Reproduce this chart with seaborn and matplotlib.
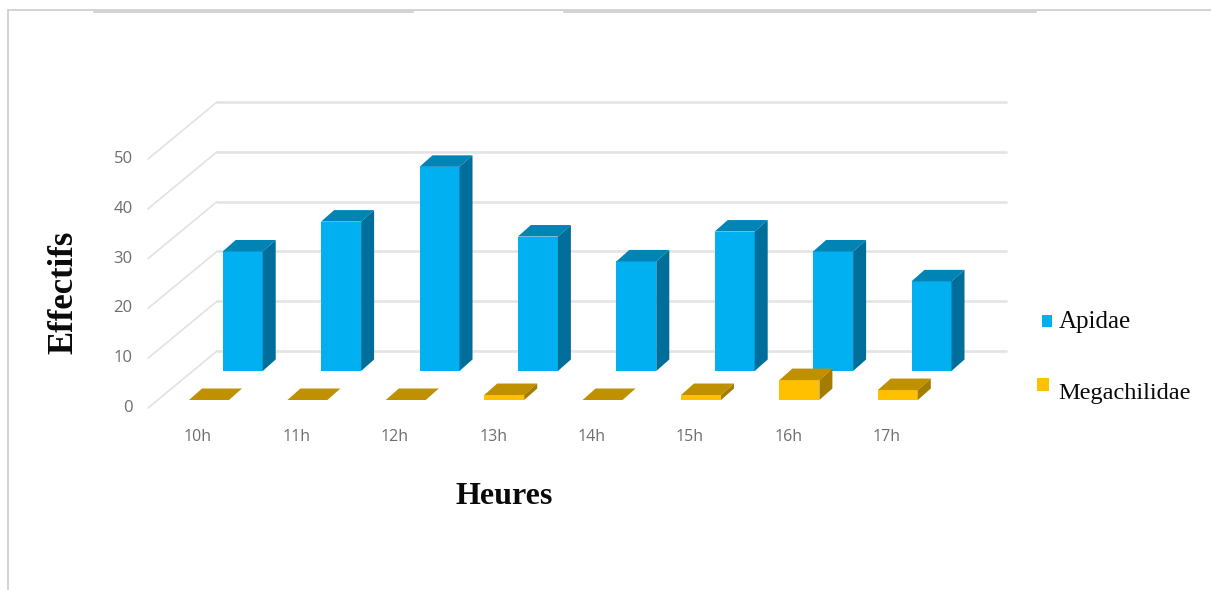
import matplotlib
matplotlib.use("Agg")
import matplotlib.pyplot as plt
from matplotlib.patches import Rectangle
from matplotlib.lines import Line2D
from matplotlib.transforms import ScaledTranslation
import seaborn as sns

hours = ["10h", "11h", "12h", "13h", "14h", "15h", "16h", "17h"]
apidae = [24, 30, 41, 27, 22, 28, 24, 18]
megachilidae = [0, 0, 0, 1, 0, 1, 4, 2]
value_ticks = [0, 10, 20, 30, 40, 50]

W, H = 1211, 590
STEP = 98.4          # pixels per hour category
UNIT = 4.98          # pixels per count
BAR_WIDTH = 40 / STEP
DEPTH_X, DEPTH_Y = 13 / STEP, 11.5 / UNIT

sns.set_theme(style="white", rc={"axes.facecolor": "none", "figure.facecolor": "white"})
fig = plt.figure(figsize=(W / 100, H / 100), dpi=100)


def pixel_axes(left, right, top, bottom, zorder):
    """Axes placed by pixel edges, measured from the top-left of the figure."""
    ax = fig.add_axes([left / W, 1 - bottom / H, (right - left) / W, (bottom - top) / H])
    ax.set_zorder(zorder)
    ax.patch.set_visible(False)
    return ax


def shade_bars(ax, values, top_color, side_color):
    """Add the top and right faces that give each bar its depth."""
    half = BAR_WIDTH / 2
    for i, v in enumerate(values):
        ax.fill([i - half, i + half, i + half + DEPTH_X, i - half + DEPTH_X],
                [v, v, v + DEPTH_Y, v + DEPTH_Y],
                color=top_color, lw=0, clip_on=False)
        if v > 0:
            ax.fill([i + half, i + half + DEPTH_X, i + half + DEPTH_X, i + half],
                    [0, DEPTH_Y, v + DEPTH_Y, v],
                    color=side_color, lw=0, clip_on=False)


def series_axes(center, base, values, color, top_color, side_color, zorder):
    """One row of bars; the row's depth comes from where its axes sit."""
    left = center - 0.6 * STEP
    ax = pixel_axes(left, left + 8.2 * STEP, base - 60 * UNIT, base, zorder)
    sns.barplot(x=hours, y=values, color=color, saturation=1, width=BAR_WIDTH,
                linewidth=0, ax=ax)
    ax.set_xlim(-0.6, 7.6)
    ax.set_ylim(0, 60)
    shade_bars(ax, values, top_color, side_color)
    ax.axis("off")
    return ax


# Back wall, floor edge and the receding gridlines
WALL_LEFT, WALL_RIGHT, WALL_BASE = 148, 1006, 408
RECEDE_X = 69 / STEP
RECEDE_Y = 57 / UNIT
wall = pixel_axes(WALL_LEFT, WALL_RIGHT, WALL_BASE - 62 * UNIT, WALL_BASE, 1)
x_first = -(198 - WALL_LEFT) / STEP
x_last = x_first + (WALL_RIGHT - WALL_LEFT) / STEP
wall.set_xlim(x_first, x_last)
wall.set_ylim(0, 62)
for v in value_ticks:
    wall.plot([x_first + RECEDE_X, x_last], [v + RECEDE_Y, v + RECEDE_Y],
              color="#e4e4e4", lw=1.9, clip_on=False)
    wall.plot([x_first, x_first + RECEDE_X], [v, v + RECEDE_Y],
              color="#e2e2e2", lw=1.2, clip_on=False)
wall.set_xticks(range(len(hours)), hours)
wall.set_yticks(value_ticks, [str(v) for v in value_ticks])
wall.tick_params(axis="both", length=0, labelcolor="#6e6e6e", labelsize=11.5,
                 labelfontfamily="Open Sans")
wall.tick_params(axis="x", pad=15)
wall.tick_params(axis="y", pad=11, labelsize=12)
nudge_up = ScaledTranslation(0, 2 / 100, fig.dpi_scale_trans)
for label in wall.get_yticklabels():
    label.set_transform(label.get_transform() + nudge_up)
sns.despine(ax=wall, left=True, bottom=True)
wall.set_xlabel("Heures", family="Liberation Serif", weight="bold", size=23, color="#0a0a0a")
wall.xaxis.set_label_coords(504 / W, 1 - 497 / H, transform=fig.transFigure)
wall.xaxis.label.set_va("center")
wall.set_ylabel("Effectifs", family="Liberation Serif", weight="bold", size=25, color="#0a0a0a")
wall.yaxis.set_label_coords(64 / W, 1 - 292 / H, transform=fig.transFigure)
wall.yaxis.label.set_va("center")

series_axes(242.7, 371, apidae, "#00B0F0", "#0084B5", "#006E9B", 2)
series_axes(209, 400, megachilidae, "#FFC000", "#BF9000", "#A37C00", 3)

# Legend entries
for (x0, y0, x1, y1), color, name, tx, ty, size in [
    ((1042, 315, 1052, 327), "#00B0F0", "Apidae", 1059, 322, 18),
    ((1037, 378, 1049, 391), "#FFC000", "Megachilidae", 1058, 393, 17.6),
]:
    fig.add_artist(Rectangle((x0 / W, 1 - y1 / H), (x1 - x0) / W, (y1 - y0) / H,
                             transform=fig.transFigure, facecolor=color, lw=0))
    fig.text(tx / W, 1 - ty / H, name, family="Liberation Serif", size=size,
             color="#0a0a0a", va="center", ha="left")

# Frame remnants along the top and left edges
frame = "#cfcfcf"
for xs, ys, lw in [
    ((7.5, 7.5), (9.5, 590), 1.3),
    ((7.5, 1211), (9.5, 9.5), 1.3),
    ((94, 413), (11.5, 11.5), 1.3),
    ((564, 1036), (11.5, 11.5), 1.3),
]:
    fig.add_artist(Line2D([x / W for x in xs], [1 - y / H for y in ys],
                          transform=fig.transFigure, color=frame, lw=lw))

fig.savefig("out.png", dpi=100)
